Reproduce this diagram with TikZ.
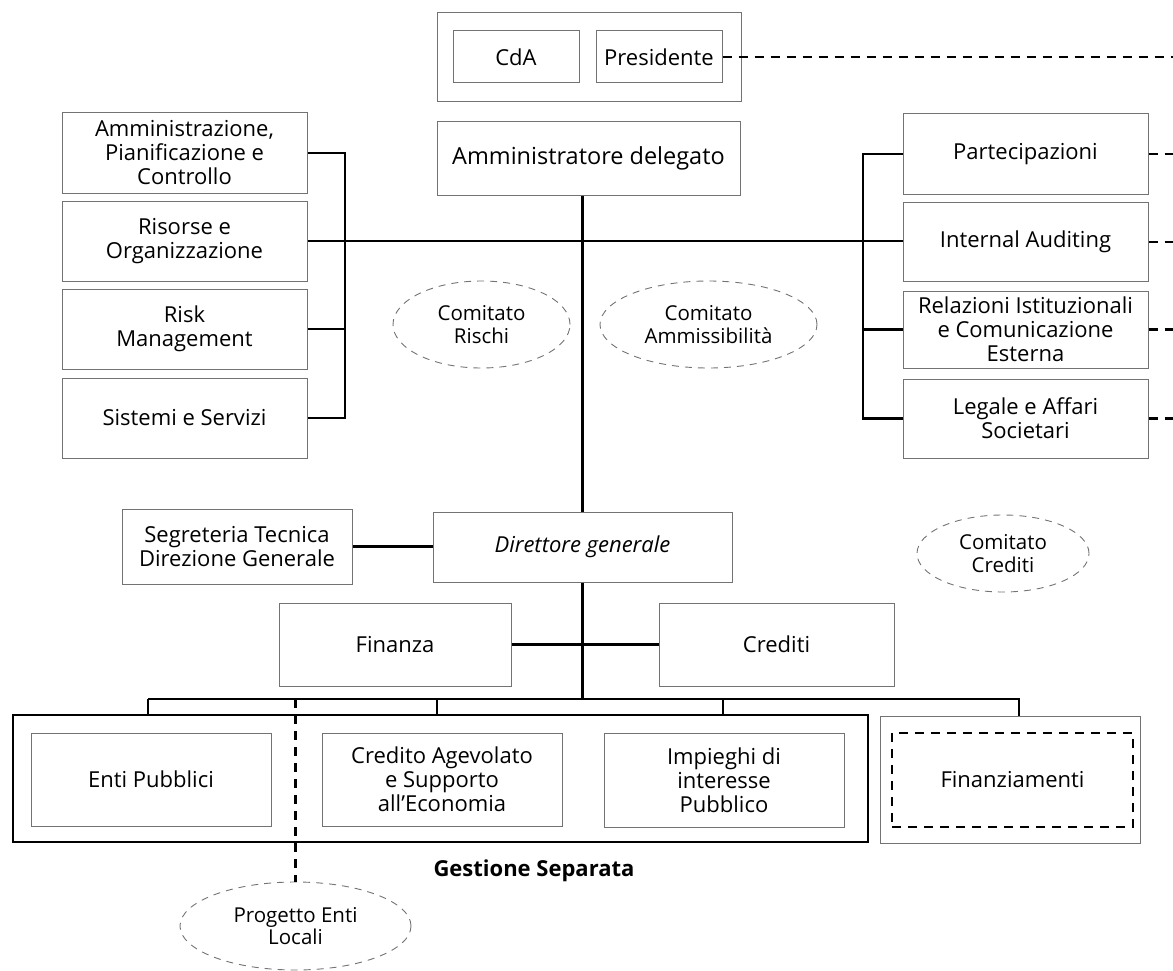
\documentclass[tikz,border=0pt]{standalone}
\usepackage{fontspec}
\setmainfont{Open Sans}
\usepackage{tikz}
\usetikzlibrary{shapes.geometric}
\definecolor{boxgray}{gray}{0.45}

\begin{document}
\begin{tikzpicture}[x=1pt,y=-1pt,
    box/.style={draw=boxgray, line width=1pt, align=center, inner sep=1pt, font=\fontsize{22}{24}\selectfont},
    comitato/.style={ellipse, draw=boxgray, line width=0.9pt, dash pattern=on 7pt off 6pt, align=center, inner sep=0pt, font=\fontsize{20.5}{22.5}\selectfont},
    link/.style={line width=2.5pt},
    dashlink/.style={line width=2.5pt, dash pattern=on 9pt off 7pt}]
    \useasboundingbox (0,0) rectangle (1173,971);
    \coordinate (edge) at (1173,0);
    \coordinate (lbus) at (345,0);
    \coordinate (rbus) at (863,0);

    \node[box, minimum width=304, minimum height=89] (board) at (589,57.5) {};
    \node[box, minimum width=126, minimum height=52] (cda) at (516,57) {CdA};
    \node[box, minimum width=126, minimum height=52] (pres) at (659,57) {Presidente};
    \node[box, minimum width=303, minimum height=73, font=\fontsize{23.5}{25}\selectfont] (ad) at (588.5,158.5) {Amministratore delegato};

    \node[box, minimum width=245, minimum height=80] (amm) at (184.5,153) {Amministrazione,\\Pianificazione e\\Controllo};
    \node[box, minimum width=245, minimum height=80] (ris) at (184.5,241) {Risorse e\\Organizzazione};
    \node[box, minimum width=245, minimum height=80] (risk) at (184.5,329) {Risk\\Management};
    \node[box, minimum width=245, minimum height=80] (sis) at (184.5,418) {Sistemi e Servizi};

    \node[box, minimum width=245, minimum height=80] (part) at (1025.5,154) {Partecipazioni};
    \node[box, minimum width=245, minimum height=79] (audit) at (1025.5,242) {Internal Auditing};
    \node[box, minimum width=245, minimum height=77] (rel) at (1025.5,329.5) {Relazioni Istituzionali\\e Comunicazione\\Esterna};
    \node[box, minimum width=245, minimum height=79] (leg) at (1025.5,418.5) {Legale e Affari\\Societari};

    \node[comitato, minimum width=177, minimum height=87] (rischi) at (481.5,324.5) {Comitato\\Rischi};
    \node[comitato, minimum width=217, minimum height=87] (ammis) at (708.5,324.5) {Comitato\\Ammissibilità};
    \node[comitato, minimum width=172, minimum height=77] (crediti) at (1003,553.5) {Comitato\\Crediti};

    \node[box, minimum width=230, minimum height=75] (seg) at (237,546.5) {Segreteria Tecnica\\Direzione Generale};
    \node[box, minimum width=299, minimum height=70] (dg) at (582.5,547) {\itshape Direttore generale};
    \node[box, minimum width=232, minimum height=83] (fin) at (395,644.5) {Finanza};
    \node[box, minimum width=235, minimum height=83] (cred) at (776.5,644.5) {Crediti};

    \node[draw, line width=2.5pt, minimum width=855, minimum height=127] (gest) at (440.5,778.5) {};
    \node[box, minimum width=240, minimum height=93] (enti) at (151,779.5) {Enti Pubblici};
    \node[box, minimum width=240, minimum height=93] (agev) at (442,779.5) {Credito Agevolato\\e Supporto\\all’Economia};
    \node[box, minimum width=240, minimum height=94] (imp) at (724,780) {Impieghi di\\interesse\\Pubblico};
    \node[box, minimum width=260, minimum height=127] (finzout) at (1010,779.5) {};
    \node[box, draw=black, dashlink, minimum width=241, minimum height=94] (finz) at (1012.5,780) {Finanziamenti};
    \node[font=\fontsize{22}{24}\selectfont\bfseries] (gs) at (534,871) {Gestione Separata};
    \node[comitato, minimum width=231, minimum height=88] (progetto) at (295.5,926) {Progetto Enti\\Locali};

    \draw[dashlink] (pres.east) -- (pres.east -| edge);
    \foreach \n in {part,audit,rel,leg}
        \draw[dashlink] (\n.east) -- (\n.east -| edge);

    \draw[link] (ad.south -| dg.north) -- (dg.north);
    \draw[link] (ris.east) -- (ris.east -| audit.west);
    \draw[link] (amm.east) -- (amm.east -| lbus) -- (sis.east -| lbus) -- (sis.east);
    \draw[link] (risk.east) -- (risk.east -| lbus);
    \draw[link] (part.west) -- (part.west -| rbus) -- (leg.west -| rbus) -- (leg.west);
    \draw[link] (rel.west) -- (rel.west -| rbus);

    \draw[link] (seg.east) -- (seg.east -| dg.west);
    \draw[link] (fin.east) -- (cred.west);

    \coordinate (d1) at (148,699);
    \coordinate (d2) at (437,699);
    \coordinate (d3) at (723,699);
    \coordinate (d4) at (1019,699);
    \draw[link] (dg.south) -- (dg.south |- d1);
    \draw[link] (d1) -- (d4) -- (d4 |- finzout.north);
    \foreach \d in {d1,d2,d3}
        \draw[link] (\d) -- (\d |- gest.north);
    \draw[dashlink] (progetto.north |- d1) -- (progetto.north);
\end{tikzpicture}
\end{document}
